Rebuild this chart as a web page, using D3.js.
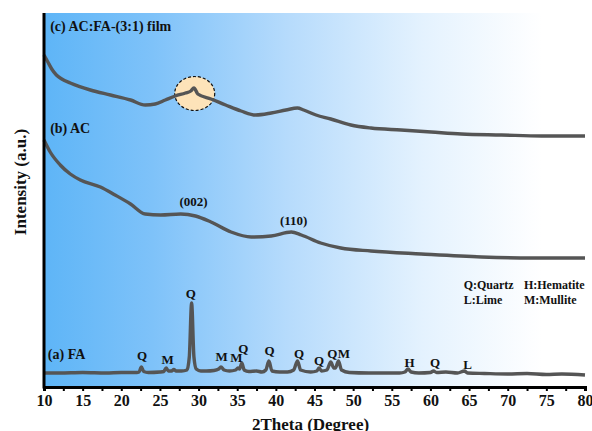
<!DOCTYPE html>
<html>
<head>
<meta charset="utf-8">
<script src="https://cdn.jsdelivr.net/npm/d3@7"></script>
<style>
  body { margin: 0; background: #fff; }
  text { font-family: "Liberation Serif", "Times New Roman", serif; font-weight: bold; fill: #111; }
</style>
</head>
<body>
<div id="chart"></div>
<script>
// XRD patterns: [2theta, intensity (a.u.)]
const filmPattern = [
  [10, 332], [10.5, 325], [11.0, 318], [11.6, 312], [12.3, 308], [13.4, 304],
  [16.0, 297], [18.6, 292], [21.2, 287], [23.1, 282], [24.4, 283], [25.7, 287],
  [27.0, 291], [28.3, 294], [29.0, 296], [29.4, 299], [29.9, 293], [31.6, 288],
  [33.5, 282], [35.5, 276], [37.4, 272], [39.4, 274], [41.3, 277], [42.8, 279],
  [43.6, 277], [45.2, 272], [47.1, 268], [49.7, 262], [52.3, 259], [56.2, 257],
  [60.1, 255], [64.0, 253], [69.2, 252], [74.4, 251], [80, 251]
];

const acPattern = [
  [10, 247], [10.8, 235], [12.1, 222], [13.4, 213], [14.7, 207], [17.3, 200],
  [19.2, 192], [21.2, 183], [23.1, 173], [25.1, 172], [27.7, 173], [29.6, 171],
  [31.6, 165], [34.2, 155], [36.8, 150], [39.4, 151], [42.0, 155], [43.3, 152],
  [45.8, 144], [48.4, 139], [52.3, 136], [58.8, 133], [66.6, 130], [73.1, 129],
  [80, 129]
];

const faPattern = [
  [10, 14], [12, 14], [15, 14.5], [18, 14], [20, 14.5], [22, 14.5], [22.3, 15],
  [22.6, 20], [22.9, 15.5], [23.5, 14.5], [25, 15], [25.5, 15.5], [25.8, 19],
  [26.1, 16], [26.5, 16], [26.8, 17.5], [27.1, 16], [27.8, 16], [28.5, 17],
  [28.8, 30], [29.1, 84], [29.4, 30], [29.7, 18], [30.3, 16], [31, 16],
  [32, 16.5], [32.6, 18], [32.9, 20], [33.3, 17], [34, 16], [34.8, 17],
  [35.1, 19], [35.3, 18], [35.6, 24], [35.9, 17], [36.5, 15.5], [37.5, 16],
  [38.2, 15], [38.7, 17], [39.1, 26], [39.5, 16], [40.5, 15], [41.5, 15],
  [42.3, 17], [42.8, 26], [43.2, 17], [44.5, 15], [45.3, 16], [45.6, 19],
  [45.9, 16], [46.6, 17], [47.1, 25], [47.5, 19], [47.7, 19], [48.1, 26],
  [48.5, 17], [49.5, 14.5], [52, 14], [54, 14], [56, 14], [56.7, 15],
  [57.1, 18], [57.5, 15], [58.5, 14], [60, 14.5], [60.4, 16], [60.8, 14.5],
  [62, 15], [63.5, 14], [64.4, 16], [64.8, 14], [67, 13.5], [70, 13],
  [72.5, 13.5], [75, 12.5], [77, 13], [80, 12]
];

// phase labels over the FA peaks: [2theta, height, letter]
const phaseLabels = [
  [22.7, 32, 'Q'], [26.0, 28, 'M'], [29.0, 94, 'Q'], [33.0, 31, 'M'],
  [34.9, 30, 'M'], [35.8, 39, 'Q'], [39.2, 37, 'Q'], [43.0, 34, 'Q'],
  [45.6, 27, 'Q'], [47.3, 34, 'Q'], [48.8, 34, 'M'], [57.3, 25, 'H'],
  [60.6, 25, 'Q'], [64.8, 23, 'L']
];

// curve names and plane indices: [2theta, height, text, anchor]
const curveLabels = [
  [10.8, 361, '(c) AC:FA-(3:1) film', 'start'],
  [10.8, 259, '(b) AC', 'start'],
  [10.5, 33, '(a) FA', 'start'],
  [29.35, 186, '(002)', 'middle'],
  [42.3, 167, '(110)', 'middle']
];

const legendItems = [
  [64.3, 102, 'Q:Quartz'], [72.1, 102, 'H:Hematite'],
  [64.3, 87, 'L:Lime'], [72.1, 87, 'M:Mullite']
];

const xTicks = d3.range(10, 80.1, 2.5);
const highlight = { theta: 29.5, value: 293.5 };

const width = 592, height = 431;
const margin = { top: 13, right: 7, bottom: 44, left: 44 };
const innerWidth = width - margin.left - margin.right;
const innerHeight = height - margin.top - margin.bottom;

const svg = d3.select('#chart').append('svg')
  .attr('width', width)
  .attr('height', height);

const defs = svg.append('defs');
const grad = defs.append('linearGradient')
  .attr('id', 'bg-grad')
  .attr('x1', '0%').attr('x2', '100%').attr('y1', '0%').attr('y2', '0%');
[['0%', '#5eb5f7'], ['20%', '#7ec2f9'], ['45%', '#b6dbfc'], ['70%', '#e4f2fe'], ['92%', '#ffffff']]
  .forEach(s => grad.append('stop').attr('offset', s[0]).attr('stop-color', s[1]));

const g = svg.append('g')
  .attr('transform', `translate(${margin.left},${margin.top})`);

const x = d3.scaleLinear().domain([10, 80]).range([0, innerWidth]);
const y = d3.scaleLinear().domain([0, 374]).range([innerHeight, 0]);

g.append('rect')
  .attr('width', innerWidth)
  .attr('height', innerHeight)
  .attr('fill', 'url(#bg-grad)');

// highlighted region on the film pattern
g.append('ellipse')
  .attr('cx', x(highlight.theta))
  .attr('cy', y(highlight.value))
  .attr('rx', 20)
  .attr('ry', 17)
  .attr('fill', '#fde3b9')
  .attr('stroke', '#111')
  .attr('stroke-width', 1.2)
  .attr('stroke-dasharray', '3,2');

const line = d3.line()
  .x(d => x(d[0]))
  .y(d => y(d[1]))
  .curve(d3.curveMonotoneX);

[filmPattern, acPattern, faPattern].forEach(p => {
  g.append('path')
    .datum(p)
    .attr('fill', 'none')
    .attr('stroke', '#555')
    .attr('stroke-width', 3.4)
    .attr('stroke-linejoin', 'round')
    .attr('d', line);
});

// axes
const xAxis = g.append('g')
  .attr('transform', `translate(0,${innerHeight})`)
  .call(d3.axisBottom(x)
    .tickValues(xTicks)
    .tickSize(4)
    .tickPadding(4)
    .tickFormat(d => d % 5 === 0 ? d : ''));
xAxis.select('.domain').attr('stroke', '#000').attr('stroke-width', 3);
xAxis.selectAll('.tick line').attr('stroke', '#000').attr('stroke-width', 2);
xAxis.selectAll('.tick text')
  .filter(d => d % 5 !== 0)
  .remove();
xAxis.selectAll('.tick text')
  .style('font-family', '"Liberation Serif", serif')
  .style('font-weight', 'bold')
  .style('font-size', '16px')
  .attr('fill', '#111');

g.append('line')
  .attr('x1', 0).attr('x2', 0)
  .attr('y1', 0).attr('y2', innerHeight + 1.5)
  .attr('stroke', '#000')
  .attr('stroke-width', 3);

// labels
g.selectAll('.phase')
  .data(phaseLabels)
  .enter().append('text')
  .attr('x', d => x(d[0]))
  .attr('y', d => y(d[1]))
  .attr('dy', '0.35em')
  .attr('text-anchor', 'middle')
  .style('font-size', '13px')
  .text(d => d[2]);

g.selectAll('.curve-label')
  .data(curveLabels)
  .enter().append('text')
  .attr('x', d => x(d[0]))
  .attr('y', d => y(d[1]))
  .attr('dy', '0.35em')
  .attr('text-anchor', d => d[3])
  .style('font-size', d => d[3] === 'start' ? '14px' : '13px')
  .text(d => d[2]);

g.selectAll('.legend')
  .data(legendItems)
  .enter().append('text')
  .attr('x', d => x(d[0]))
  .attr('y', d => y(d[1]))
  .attr('dy', '0.35em')
  .style('font-size', '12px')
  .text(d => d[2]);

svg.append('text')
  .attr('x', margin.left + x(45) - 4)
  .attr('y', 424)
  .attr('dy', '0.35em')
  .attr('text-anchor', 'middle')
  .style('font-size', '17px')
  .text('2Theta (Degree)');

svg.append('text')
  .attr('transform', 'translate(20,182) rotate(-90)')
  .attr('dy', '0.35em')
  .attr('text-anchor', 'middle')
  .style('font-size', '17px')
  .text('Intensity (a.u.)');
</script>
</body>
</html>
